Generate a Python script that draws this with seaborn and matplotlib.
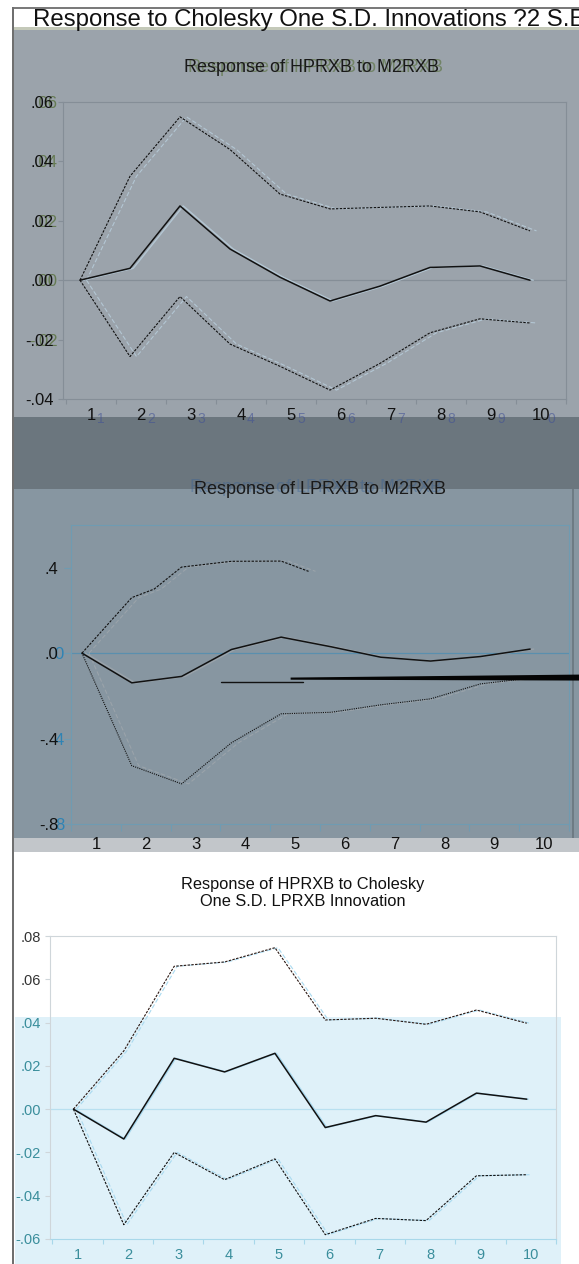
import numpy as np
import pandas as pd
import matplotlib
matplotlib.use("Agg")
import matplotlib.pyplot as plt
import matplotlib.transforms as mtransforms
from matplotlib.patches import Rectangle
import seaborn as sns

# ---------------- data ----------------
steps = [1, 2, 3, 4, 5, 6, 7, 8, 9, 10]
step_labels = ["1", "2", "3", "4", "5", "6", "7", "8", "9", "10"]

# Response of HPRXB to M2RXB
hp_m2_resp = [0.000, 0.004, 0.025, 0.0105, 0.001, -0.007, -0.002, 0.0043, 0.0048, 0.000]
hp_m2_upper = [0.000, 0.035, 0.055, 0.044, 0.029, 0.024, 0.0245, 0.025, 0.023, 0.0166]
hp_m2_lower = [0.000, -0.0257, -0.0055, -0.0215, -0.029, -0.037, -0.028, -0.0177, -0.013, -0.0144]
hp_m2_yticks = [-0.04, -0.02, 0.00, 0.02, 0.04, 0.06]
hp_m2_ylabels = ["-.04", "-.02", ".00", ".02", ".04", ".06"]

# Response of LPRXB to M2RXB
lp_m2_resp = [0.000, -0.139, -0.109, 0.017, 0.075, 0.030, -0.019, -0.037, -0.016, 0.019]
lp_m2_upper_steps = [1, 2, 2.45, 3, 4, 5, 5.55]
lp_m2_upper = [0.000, 0.26, 0.30, 0.403, 0.43, 0.431, 0.383]
lp_m2_lower = [0.000, -0.527, -0.612, -0.42, -0.284, -0.277, -0.242, -0.214, -0.144, -0.117]
lp_m2_yticks = [-0.8, -0.4, 0.0, 0.4]
lp_m2_ylabels = ["-.8", "-.4", ".0", ".4"]
pointer_thin_x = [3.52, 5.16]
pointer_thin_y = [-0.136, -0.136]
pointer_x = [4.9, 10.7]
pointer_top = [-0.112, -0.098]
pointer_bottom = [-0.122, -0.126]

# Response of HPRXB to Cholesky One S.D. LPRXB Innovation
hp_lp_resp = [0.000, -0.0138, 0.0235, 0.0172, 0.0258, -0.0085, -0.003, -0.006, 0.0074, 0.0046]
hp_lp_upper = [0.000, 0.0269, 0.066, 0.068, 0.0746, 0.0412, 0.042, 0.0392, 0.0458, 0.0397]
hp_lp_lower = [0.000, -0.0534, -0.020, -0.0326, -0.023, -0.058, -0.0505, -0.0515, -0.0308, -0.0303]
hp_lp_yticks = [-0.06, -0.04, -0.02, 0.00, 0.02, 0.04, 0.06, 0.08]
hp_lp_ylabels = ["-.06", "-.04", "-.02", ".00", ".02", ".04", ".06", ".08"]

main_title = "Response to Cholesky One S.D. Innovations ?2 S.E."
title1 = "Response of HPRXB to M2RXB"
title2 = "Response of LPRXB to M2RXB"
title3 = "Response of HPRXB to Cholesky\nOne S.D. LPRXB Innovation"

# ---------------- setup ----------------
sns.set_theme(style="white")
plt.rcParams["font.family"] = ["Liberation Sans", "DejaVu Sans"]

W, H = 579, 1264
fig = plt.figure(figsize=(W / 100, H / 100), dpi=100, facecolor="white")


def frect(l, t, r, b):
    return [l / W, 1 - b / H, (r - l) / W, (b - t) / H]


def bg(l, t, r, b, color, z=-5):
    fig.add_artist(Rectangle((l / W, 1 - b / H), (r - l) / W, (b - t) / H,
                             transform=fig.transFigure, facecolor=color,
                             edgecolor="none", zorder=z))


# window background pieces
bg(14, 29, 579, 417, "#9ba3ab")
bg(14, 27, 579, 30, "#c4c9b9")
bg(14, 417, 579, 489, "#6b767e")
bg(14, 489, 579, 838, "#8796a1")
bg(572, 489, 574, 838, "#6e7b84")
bg(14, 838, 579, 852, "#c2c6ca")
bg(12, 7, 579, 9, "#7b7b7b")
bg(12, 7, 14, 1264, "#6f6f6f")

fig.text(33 / W, 1 - 20 / H, main_title, fontsize=17.3, color="#111111",
         ha="left", va="center")


def draw_lines(ax, xs, resp, upper, lower, shift, ghost_shift, ghost_color,
               upper_steps=None, lower_style=(0, (2.2, 1.2)), ghost=True,
               upper_color="#111111"):
    xs = np.asarray(xs, dtype=float)
    us = xs if upper_steps is None else np.asarray(upper_steps, dtype=float)
    if ghost:
        sns.lineplot(x=us + shift + ghost_shift, y=upper, ax=ax, color=ghost_color,
                     lw=0.8, linestyle=(0, (4, 2)), sort=False, estimator=None, zorder=2)
        sns.lineplot(x=xs + shift + ghost_shift, y=lower, ax=ax, color=ghost_color,
                     lw=0.8, linestyle=(0, (4, 2)), sort=False, estimator=None, zorder=2)
        sns.lineplot(x=xs + shift + ghost_shift * 0.5, y=resp, ax=ax, color=ghost_color,
                     lw=1.0, sort=False, estimator=None, zorder=2)
    sns.lineplot(x=us + shift, y=upper, ax=ax, color=upper_color, lw=0.8,
                 linestyle=(0, (2.2, 1.2)), sort=False, estimator=None, zorder=3)
    sns.lineplot(x=xs + shift, y=lower, ax=ax, color="#111111", lw=0.8,
                 linestyle=lower_style, sort=False, estimator=None, zorder=3)
    sns.lineplot(x=xs + shift, y=resp, ax=ax, color="#111111", lw=1.1,
                 sort=False, estimator=None, zorder=3)


def style_axes(ax, xlim, ylim, yticks, ylabels, frame_color, zero_color,
               label_size, label_color, tick_len_px, tick_pad):
    ax.set_axisbelow(False)
    ax.set_xlim(*xlim)
    ax.set_ylim(*ylim)
    ax.set_facecolor("none")
    for s in ax.spines.values():
        s.set_color(frame_color)
        s.set_linewidth(0.8)
    ax.axhline(0, color=zero_color, lw=0.9, zorder=1.5)
    ax.set_yticks(yticks)
    ax.set_yticklabels(ylabels)
    ax.set_xticks(steps)
    ax.set_xticklabels(step_labels)
    ax.set_xticks([s - 0.5 for s in steps] + [steps[-1] + 0.5], minor=True)
    tl = tick_len_px * 0.72
    ax.tick_params(axis="x", which="major", length=0, pad=tick_pad + tl,
                   labelsize=label_size, labelcolor=label_color)
    ax.tick_params(axis="x", which="minor", length=tl, width=0.8,
                   color=frame_color, direction="out", bottom=True)
    ax.tick_params(axis="y", which="major", length=tl, width=0.8, color=frame_color,
                   direction="out", left=True, pad=tick_pad,
                   labelsize=label_size, labelcolor=label_color)
    ax.set_xlabel("")
    ax.set_ylabel("")
    ax.grid(False)


def ghost_text(ax, x, y, s, dx, dy, color, size, trans, alpha=0.8, **kw):
    t = mtransforms.offset_copy(trans, fig=fig, x=dx, y=dy, units="dots")
    ax.text(x, y, s, transform=t, color=color, fontsize=size, alpha=alpha,
            clip_on=False, zorder=1.2, **kw)


# ---------------- panel 1 ----------------
ax1 = fig.add_axes(frect(63, 102, 566, 399))
draw_lines(ax1, steps, hp_m2_resp, hp_m2_upper, hp_m2_lower, shift=-0.22,
           ghost_shift=0.13, ghost_color="#b3c6d3")
style_axes(ax1, (0.44, 10.5), (-0.04, 0.06), hp_m2_yticks, hp_m2_ylabels,
           frame_color="#858e97", zero_color="#858e97", label_size=12,
           label_color="#111111", tick_len_px=5, tick_pad=3)
ax1.text(0.495, 1 + 34 / 297, title1, transform=ax1.transAxes, ha="center",
         va="center", fontsize=13, color="#1a1a1a", zorder=3)
ghost_text(ax1, 0.495, 1 + 34 / 297, title1, 4, 0, "#4f6a2e", 13, ax1.transAxes,
           alpha=0.55, ha="center", va="center")
ytr = ax1.get_yaxis_transform()
for v, s in zip(hp_m2_yticks[1:], hp_m2_ylabels[1:]):
    ghost_text(ax1, 0, v, s, -5, 0, "#4f6a2e", 12, ytr, alpha=0.7,
               ha="right", va="center_baseline")
xtr = ax1.get_xaxis_transform()
for v, s in zip(steps, step_labels):
    ghost_text(ax1, v, -20 / 297, s[-1], 6, 0, "#3e4f96", 10, xtr, alpha=0.55,
               ha="left", va="center")

# ---------------- panel 2 ----------------
ax2 = fig.add_axes(frect(71, 525, 569, 824))
draw_lines(ax2, steps, lp_m2_resp, lp_m2_upper, lp_m2_lower, shift=-0.28,
           ghost_shift=0.14, ghost_color="#9aa3aa", upper_steps=lp_m2_upper_steps,
           lower_style=(0, (1, 1)))
ax2.plot(pointer_thin_x, pointer_thin_y, color="#111111", lw=1.0, zorder=3,
         clip_on=False)
ax2.fill_between(pointer_x, pointer_top, pointer_bottom, color="#050505",
                 lw=0, zorder=3, clip_on=False)
style_axes(ax2, (0.52, 10.48), (-0.8, 0.6), lp_m2_yticks, lp_m2_ylabels,
           frame_color="#6f9bb2", zero_color="#5a8fae", label_size=12,
           label_color="#111111", tick_len_px=7, tick_pad=4)
ax2.text(0.5, 1 + 36 / 299, title2, transform=ax2.transAxes, ha="center",
         va="center", fontsize=13, color="#1a1a1a", zorder=3)
ghost_text(ax2, 0.5, 1 + 36 / 299, title2, -4, 1, "#2f5d9a", 13, ax2.transAxes,
           alpha=0.35, ha="center", va="center")
ytr2 = ax2.get_yaxis_transform()
for v, s in zip(lp_m2_yticks[:3], lp_m2_ylabels[:3]):
    ghost_text(ax2, 0, v, s[-1], -7, 0, "#1f80b8", 12, ytr2, alpha=0.85,
               ha="right", va="center_baseline")

# ---------------- panel 3 ----------------
ax3 = fig.add_axes(frect(50, 936, 556, 1239))
blue = Rectangle((15 / W, 0), (561 - 15) / W, 1 - 1017 / H,
                 transform=fig.transFigure, facecolor="#dff1f9", edgecolor="none",
                 zorder=1)
ax3.add_artist(blue)
blue.set_clip_on(False)
draw_lines(ax3, steps, hp_lp_resp, hp_lp_upper, hp_lp_lower, shift=-0.08,
           ghost_shift=0.06, ghost_color="#a9daf0", upper_color="#2a1712")
style_axes(ax3, (0.455, 10.30), (-0.06, 0.08), hp_lp_yticks, hp_lp_ylabels,
           frame_color="#cfd6da", zero_color="#b8e0f0", label_size=10.5,
           label_color="#3a8e9c", tick_len_px=5, tick_pad=3)
for tick, v in zip(ax3.yaxis.get_major_ticks(), hp_lp_yticks):
    if v > 0.05:
        tick.label1.set_color("#333333")
    else:
        tick.tick1line.set_color("#a8d8ea")
ax3.tick_params(axis="x", which="minor", color="#a8d8ea")
ax3.spines["bottom"].set_color("#a8d8ea")
ax3.text(0.50, 1 + 43 / 303, title3, transform=ax3.transAxes, ha="center",
         va="center", fontsize=11.8, color="#111111", linespacing=1.15)

fig.savefig("out.png", dpi=100, facecolor="white")
